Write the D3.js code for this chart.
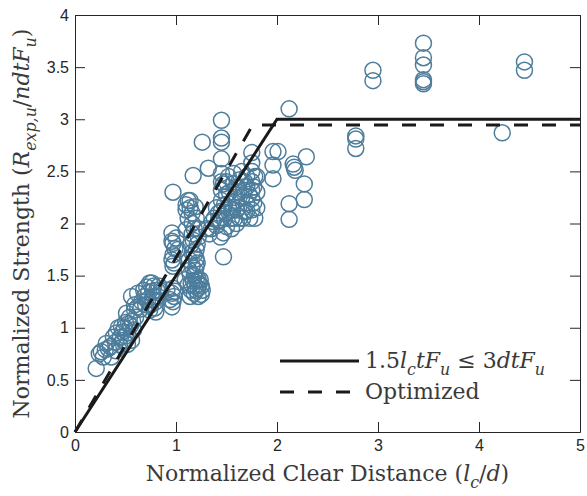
<!DOCTYPE html>
<html>
<head>
<meta charset="utf-8">
<script src="https://cdn.jsdelivr.net/npm/d3@7"></script>
<style>
body { margin: 0; background: #fff; }
</style>
</head>
<body>
<svg id="chart"></svg>
<script>
// test points, [lc/d, Rexp/ndtFu]
var lowPoints = [
    [0.21,0.61],[0.24,0.75],[0.26,0.77],[0.28,0.72],[0.30,0.79],[0.31,0.85],[0.35,0.82],
    [0.36,0.72],[0.38,0.91],[0.40,0.78],[0.41,0.95],[0.43,1.00],[0.45,0.91],[0.46,1.01],
    [0.48,0.88],[0.50,1.05],[0.50,0.92],[0.51,1.14],[0.52,0.84],[0.53,1.04],[0.55,1.02],
    [0.56,0.88],[0.56,1.30],[0.58,0.98],[0.59,1.17],[0.59,1.22],[0.60,1.10],[0.62,1.33],
    [0.65,1.18],[0.69,1.30],[0.70,1.22],[0.71,1.39],[0.72,1.27],[0.74,1.17],[0.74,1.43],
    [0.76,1.43],[0.77,1.35],[0.77,1.27],[0.78,1.30],[0.79,1.19],[0.80,1.25],[0.81,1.36],
    [0.83,1.40],[0.91,1.36],
    [0.33,0.80],[0.40,0.86],[0.44,0.84],[0.47,0.96],[0.49,1.00],[0.52,0.95],[0.54,1.10],
    [0.57,1.06],[0.62,1.20],[0.66,1.25],[0.68,1.36],[0.73,1.34],[0.75,1.22],[0.78,1.40],
    [0.80,1.15],[0.82,1.30],[0.85,1.35]
];
var midPoints = [
    [0.94,1.27],[0.96,1.20],[0.96,1.33],[0.97,1.38],[0.98,1.30],[0.97,1.59],[0.96,1.65],
    [0.97,1.70],[0.97,1.81],[0.96,1.83],[0.96,1.91],[1.02,1.75],[0.97,2.30],
    [1.09,1.46],[1.12,1.41],[1.14,1.30],[1.14,1.51],[1.15,1.42],[1.16,1.59],[1.16,1.72],
    [1.17,1.84],[1.18,1.33],[1.18,1.50],[1.20,1.46],[1.20,1.59],[1.20,1.66],[1.20,1.75],
    [1.22,1.30],[1.22,1.38],[1.22,1.46],[1.22,1.87],[1.24,1.46],[1.25,1.32],[1.25,1.40],
    [1.13,1.65],[1.15,1.80],[1.18,1.95],[1.20,2.05],[1.10,1.94],[1.16,2.00],[1.12,2.05],
    [1.16,2.10],[1.10,2.13],[1.19,2.16],[1.10,2.18],[1.14,2.22],[1.12,2.22],[1.17,2.46],
    [1.26,2.78],
    [0.97,1.25],[0.99,1.35],[0.98,1.62],[0.99,1.76],[1.00,1.86],[1.15,1.36],[1.17,1.45],
    [1.19,1.55],[1.21,1.62],[1.18,1.70],[1.21,1.80],[1.16,1.90],[1.22,1.95],[1.14,2.15],
    [1.20,1.36],[1.23,1.42],[1.26,1.36],[1.19,1.40],[1.13,1.55]
];
var highPoints = [
    [1.30,1.95],[1.33,1.90],[1.35,1.95],[1.38,2.05],[1.40,2.15],[1.42,2.03],[1.44,2.03],
    [1.44,1.87],[1.47,1.91],[1.47,1.68],[1.50,1.97],[1.50,2.10],[1.55,1.95],[1.55,2.20],
    [1.56,2.13],[1.58,2.05],[1.60,2.00],[1.60,2.13],[1.60,2.22],[1.60,2.35],[1.62,2.30],
    [1.63,2.05],[1.65,2.25],[1.65,2.50],[1.68,2.11],[1.68,2.40],[1.70,2.20],[1.70,2.35],
    [1.75,2.13],[1.77,2.20],[1.78,2.05],[1.75,2.24],[1.75,2.32],[1.75,2.40],[1.75,2.50],
    [1.75,2.58],[1.75,2.68],[1.80,2.30],[1.80,2.45],[1.53,2.30],[1.52,2.45],
    [1.45,2.12],[1.45,2.22],[1.45,2.32],[1.45,2.40],[1.45,2.48],[1.45,2.62],[1.45,2.78],
    [1.45,2.82],[1.45,2.99],[1.32,2.53],
    [1.36,2.02],[1.40,1.98],[1.42,2.10],[1.48,2.05],[1.48,2.18],[1.50,2.28],[1.52,2.15],
    [1.55,2.05],[1.57,2.38],[1.58,2.25],[1.62,2.15],[1.63,2.42],[1.66,2.05],[1.67,2.32],
    [1.70,2.12],[1.70,2.45],[1.72,2.28],[1.73,2.05],[1.77,2.35],[1.78,2.45],[1.80,2.15],
    [1.47,2.38],[1.50,2.40],[1.57,2.48]
];
var farPoints = [
    [1.96,2.69],[2.01,2.69],[1.96,2.56],[1.96,2.43],[2.12,3.10],[2.16,2.57],[2.18,2.51],
    [2.17,2.54],[2.29,2.64],[2.27,2.38],[2.27,2.23],[2.12,2.19],[2.12,2.04],
    [2.78,2.84],[2.78,2.81],[2.78,2.72],[2.95,3.47],[2.95,3.37],
    [3.45,3.73],[3.45,3.59],[3.45,3.52],[3.45,3.38],[3.45,3.36],[3.45,3.34],
    [4.23,2.87],[4.45,3.55],[4.45,3.47]
];

// limit lines
var codeLimit = [[0,0],[2,3],[5,3]];
var optimizedLimit = [[0,0],[1.76,2.945],[5,2.945]];

var xTicks = [0,1,2,3,4,5];
var yTicks = [0,0.5,1,1.5,2,2.5,3,3.5,4];

var width = 587, height = 496;
var margin = {top: 15, right: 7, bottom: 64, left: 75};
var axisColor = "#262626";
var markerColor = "#4d7d9c";
var mathFont = "'DejaVu Serif', 'Liberation Serif', serif";

var svg = d3.select("#chart")
    .attr("width", width)
    .attr("height", height);

var x = d3.scaleLinear().domain([0, 5]).range([margin.left, width - margin.right]);
var y = d3.scaleLinear().domain([0, 4]).range([height - margin.bottom, margin.top]);

// scatter
var allPoints = lowPoints.concat(midPoints, highPoints, farPoints);
svg.append("g").selectAll("circle")
    .data(allPoints).enter()
    .append("circle")
    .attr("cx", function(d){ return x(d[0]); })
    .attr("cy", function(d){ return y(d[1]); })
    .attr("r", 8)
    .style("fill", "none")
    .style("stroke", markerColor)
    .style("stroke-width", 1.5);

var line = d3.line()
    .x(function(d){ return x(d[0]); })
    .y(function(d){ return y(d[1]); });

svg.append("path")
    .attr("d", line(codeLimit))
    .style("fill", "none")
    .style("stroke", "#1a1a1a")
    .style("stroke-width", 3);

svg.append("path")
    .attr("d", line(optimizedLimit))
    .style("fill", "none")
    .style("stroke", "#1a1a1a")
    .style("stroke-width", 3)
    .style("stroke-dasharray", "14,14");

// axes (box, ticks inside)
var fmt = function(d){ return String(d); };
var axBottom = svg.append("g")
    .attr("transform", "translate(0," + y(0) + ")")
    .call(d3.axisBottom(x).tickValues(xTicks).tickSizeInner(-10).tickSizeOuter(0).tickPadding(5).tickFormat(fmt));
var axTop = svg.append("g")
    .attr("transform", "translate(0," + y(4) + ")")
    .call(d3.axisTop(x).tickValues(xTicks).tickSizeInner(-10).tickSizeOuter(0).tickFormat(""));
var axLeft = svg.append("g")
    .attr("transform", "translate(" + x(0) + ",0)")
    .call(d3.axisLeft(y).tickValues(yTicks).tickSizeInner(-10).tickSizeOuter(0).tickPadding(5).tickFormat(fmt));
var axRight = svg.append("g")
    .attr("transform", "translate(" + x(5) + ",0)")
    .call(d3.axisRight(y).tickValues(yTicks).tickSizeInner(-10).tickSizeOuter(0).tickFormat(""));

[axBottom, axTop, axLeft, axRight].forEach(function(g){
    g.selectAll("path").style("stroke", axisColor).style("stroke-width", 1);
    g.selectAll("line").style("stroke", axisColor).style("stroke-width", 1);
    g.selectAll("text")
        .style("fill", axisColor)
        .style("font-family", "'Liberation Sans', Arial, sans-serif")
        .style("font-size", "16px");
});
axBottom.selectAll("text").attr("y", 8);
axLeft.selectAll("text").attr("x", -6);

// math-ish text: parts are [text, italic?, subscript?]
function mathText(parent, parts, size){
    var t = parent.append("text")
        .style("font-family", mathFont)
        .style("font-size", size + "px")
        .style("fill", "#3a3a3a");
    var shift = 0;
    parts.forEach(function(p){
        var sub = p[2] ? size * 0.3 : 0;
        t.append("tspan")
            .attr("dy", sub - shift)
            .style("font-style", p[1] ? "italic" : "normal")
            .style("font-size", p[2] ? (size * 0.72) + "px" : null)
            .text(p[0]);
        shift = sub;
    });
    return t;
}

mathText(svg, [
    ["Normalized Clear Distance (", 0, 0],
    ["l", 1, 0], ["c", 1, 1], ["/", 0, 0], ["d", 1, 0], [")", 0, 0]
], 22)
    .attr("x", (x(0) + x(5)) / 2)
    .attr("y", 481)
    .attr("text-anchor", "middle");

mathText(svg, [
    ["Normalized Strength (", 0, 0],
    ["R", 1, 0], ["exp,u", 1, 1], ["/", 0, 0], ["ndtF", 1, 0], ["u", 1, 1], [")", 0, 0]
], 22)
    .attr("text-anchor", "middle")
    .attr("transform", "translate(29," + ((y(0) + y(4)) / 2) + ") rotate(-90)");

// legend
var legend = svg.append("g");
legend.append("line")
    .attr("x1", 280).attr("x2", 359).attr("y1", 361).attr("y2", 361)
    .style("stroke", "#1a1a1a").style("stroke-width", 3);
legend.append("line")
    .attr("x1", 280).attr("x2", 359).attr("y1", 392).attr("y2", 392)
    .style("stroke", "#1a1a1a").style("stroke-width", 3)
    .style("stroke-dasharray", "14,14");

mathText(legend, [
    ["1.5", 0, 0], ["l", 1, 0], ["c", 1, 1], ["tF", 1, 0], ["u", 1, 1],
    [" \u2264 3", 0, 0], ["dtF", 1, 0], ["u", 1, 1]
], 22)
    .attr("x", 365).attr("y", 368);

mathText(legend, [["Optimized", 0, 0]], 22)
    .attr("x", 365).attr("y", 399);
</script>
</body>
</html>
